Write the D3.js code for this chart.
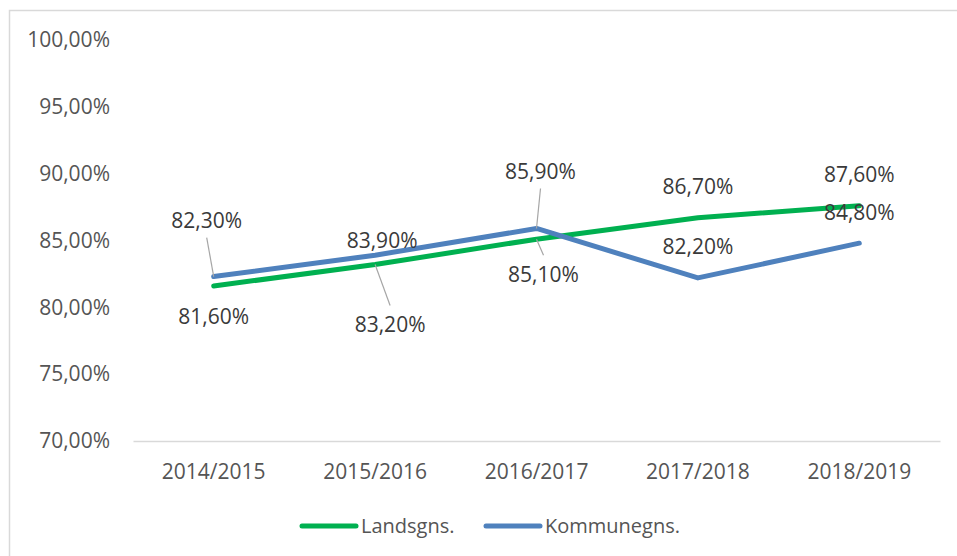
<!DOCTYPE html>
<html>
<head>
<meta charset="utf-8">
<script src="https://cdn.jsdelivr.net/npm/d3@7/dist/d3.min.js"></script>
<style>
  body { margin: 0; background: #fff; }
  svg text { font-family: "Open Sans", sans-serif; }
</style>
</head>
<body>
<div id="chart"></div>
<script>
// chart values
var years = ['2014/2015', '2015/2016', '2016/2017', '2017/2018', '2018/2019'];
var landsgns = [81.6, 83.2, 85.1, 86.7, 87.6];
var kommunegns = [82.3, 83.9, 85.9, 82.2, 84.8];
var yTicks = [70, 75, 80, 85, 90, 95, 100];

// label placement (pixel offsets from each point), leader lines where Excel drew them
var landsOffsets = [[0, 31, false], [15, 60, true], [7, 35, true], [0, -31, false], [0, -31, false]];
var kommuneOffsets = [[-7, -56, true], [7, -15, false], [4, -57, true], [0, -31, false], [0, -31, false]];

var width = 957, height = 556,
  margin = {top: 40, right: 17, bottom: 115, left: 133},
  innerW = width - margin.left - margin.right,
  innerH = height - margin.top - margin.bottom,
  greenColor = '#00b050',
  blueColor = '#4f81bd',
  labelColor = '#3a3a3a',
  axisColor = '#555555';

var svg = d3.select('#chart').append('svg')
  .attr('width', width)
  .attr('height', height);

// chart frame
svg.append('rect')
  .attr('x', 9.5).attr('y', 10.5)
  .attr('width', width).attr('height', height)
  .attr('fill', 'none')
  .attr('stroke', '#d9d9d9')
  .attr('stroke-width', 1.5);

var g = svg.append('g')
  .attr('transform', 'translate(' + margin.left + ',' + margin.top + ')');

var x = d3.scaleBand().domain(years).range([0, innerW]);
var y = d3.scaleLinear().domain([70, 100]).range([innerH, 0]);

function fmt(v) {
  return v.toFixed(2).replace('.', ',') + '%';
}

// y axis labels (no axis line)
var yAxis = g.append('g')
  .call(d3.axisLeft(y).tickValues(yTicks).tickSize(0).tickPadding(23).tickFormat(fmt));
yAxis.select('.domain').remove();
yAxis.selectAll('text')
  .attr('fill', axisColor)
  .style('font-size', '21px');

// x axis baseline + labels
var xAxis = g.append('g')
  .attr('transform', 'translate(0,' + innerH + ')')
  .call(d3.axisBottom(x).tickSize(0).tickPadding(23));
xAxis.select('.domain')
  .attr('stroke', '#d9d9d9')
  .attr('stroke-width', 1.5);
xAxis.selectAll('text')
  .attr('fill', axisColor)
  .style('font-size', '21px');

var line = d3.line()
  .x(function (d, i) { return x(years[i]) + x.bandwidth() / 2; })
  .y(function (d) { return y(d); });

var series = [
  {name: 'Landsgns.', values: landsgns, color: greenColor, offsets: landsOffsets},
  {name: 'Kommunegns.', values: kommunegns, color: blueColor, offsets: kommuneOffsets}
];

series.forEach(function (s) {
  g.append('path')
    .datum(s.values)
    .attr('fill', 'none')
    .attr('stroke', s.color)
    .attr('stroke-width', 5)
    .attr('stroke-linecap', 'round')
    .attr('stroke-linejoin', 'round')
    .attr('d', line);
});

// data labels
series.forEach(function (s) {
  s.values.forEach(function (v, i) {
    var px = x(years[i]) + x.bandwidth() / 2,
      py = y(v),
      off = s.offsets[i],
      lx = px + off[0],
      ly = py + off[1];
    if (off[2]) {
      g.append('line')
        .attr('x1', px).attr('y1', py)
        .attr('x2', lx).attr('y2', ly + (off[1] < 0 ? 17 : -19))
        .attr('stroke', '#a6a6a6')
        .attr('stroke-width', 1.2);
    }
    g.append('text')
      .attr('x', lx)
      .attr('y', ly)
      .attr('dy', '0.35em')
      .attr('text-anchor', 'middle')
      .attr('fill', labelColor)
      .style('font-size', '21px')
      .text(fmt(v));
  });
});

// legend
var legend = svg.append('g').attr('transform', 'translate(0,526)');
var legendX = [302, 486];
series.forEach(function (s, i) {
  var lg = legend.append('g').attr('transform', 'translate(' + legendX[i] + ',0)');
  lg.append('line')
    .attr('x1', 0).attr('x2', 54)
    .attr('stroke', s.color)
    .attr('stroke-width', 5)
    .attr('stroke-linecap', 'round');
  lg.append('text')
    .attr('x', 59)
    .attr('dy', '0.35em')
    .attr('fill', axisColor)
    .style('font-size', '20px')
    .text(s.name);
});
</script>
</body>
</html>
